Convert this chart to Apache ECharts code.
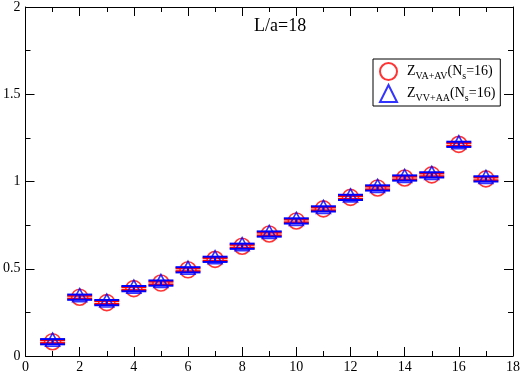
<!DOCTYPE html>
<html>
<head>
<meta charset="utf-8">
<script src="https://cdn.jsdelivr.net/npm/echarts@6/dist/echarts.min.js"></script>
<style>
html,body{margin:0;padding:0;background:#fff;}
#chart{width:532px;height:374px;}
</style>
</head>
<body>
<div id="chart"></div>
<script>
// Data
const xValues = [1, 2, 3, 4, 5, 6, 7, 8, 9, 10, 11, 12, 13, 14, 15, 16, 17];
const zVAAV = [0.082, 0.337, 0.306, 0.386, 0.418, 0.494, 0.554, 0.629, 0.699, 0.774, 0.843, 0.909, 0.963, 1.020, 1.038, 1.213, 1.015];
const zVAAVerr = [0.008, 0.008, 0.008, 0.008, 0.008, 0.008, 0.008, 0.008, 0.008, 0.008, 0.008, 0.008, 0.008, 0.008, 0.008, 0.008, 0.008];
const zVVAA = [0.082, 0.337, 0.306, 0.386, 0.418, 0.494, 0.554, 0.629, 0.699, 0.774, 0.843, 0.909, 0.963, 1.020, 1.038, 1.213, 1.015];
const zVVAAerr = [0.015, 0.015, 0.015, 0.015, 0.015, 0.015, 0.015, 0.015, 0.015, 0.015, 0.015, 0.015, 0.015, 0.015, 0.015, 0.015, 0.015];
const titleText = 'L/a=18';
const name1 = 'Z_VA+AV';
const name2 = 'Z_VV+AA';

const FONT = 'Liberation Serif';
const chart = echarts.init(document.getElementById('chart'), null, {renderer: 'canvas'});

function pts(vals, errs) { return xValues.map((x, i) => [x, vals[i], errs[i]]); }

function errRender(color) {
  return function (params, api) {
    const x = api.value(0), y = api.value(1), e = api.value(2);
    const hi = api.coord([x, y + e]);
    const lo = api.coord([x, y - e]);
    const hw = 12.5;
    const st = {stroke: color, lineWidth: 2};
    return {
      type: 'group',
      children: [
        {type: 'line', shape: {x1: hi[0], y1: hi[1], x2: lo[0], y2: lo[1]}, style: st},
        {type: 'line', shape: {x1: hi[0] - hw, y1: hi[1], x2: hi[0] + hw, y2: hi[1]}, style: st},
        {type: 'line', shape: {x1: lo[0] - hw, y1: lo[1], x2: lo[0] + hw, y2: lo[1]}, style: st}
      ]
    };
  };
}

const axisCommon = {
  type: 'value',
  axisLine: {show: true, onZero: false, lineStyle: {color: '#000', width: 1}},
  axisTick: {show: true, inside: true, length: 9, lineStyle: {color: '#000'}},
  minorTick: {show: true, splitNumber: 2, length: 5, lineStyle: {color: '#000'}},
  splitLine: {show: false},
  axisLabel: {color: '#000', fontFamily: FONT, fontSize: 14}
};

const option = {
  backgroundColor: '#fff',
  animation: false,
  title: {
    text: titleText, left: 249, top: 12,
    textStyle: {fontFamily: FONT, fontSize: 18, fontWeight: 'normal', color: '#000'}
  },
  grid: {left: 23, right: 19, top: 7, bottom: 17, containLabel: false},
  legend: {
    orient: 'vertical', left: 373, top: 59,
    backgroundColor: '#fff',
    borderColor: '#000', borderWidth: 1,
    padding: [3, 5, 3, 6],
    itemGap: 3, itemWidth: 17, itemHeight: 17,
    data: [name1, name2],
    formatter: function (n) {
      const sub = n === name1 ? 'VA+AV' : 'VV+AA';
      return '{m|Z}{s|' + sub + '}{m|(N}{s|s}{m|=16)}';
    },
    textStyle: {
      fontFamily: FONT, color: '#000', padding: [0, 0, 0, 5],
      rich: {
        m: {fontFamily: FONT, fontSize: 14, color: '#000', lineHeight: 19, verticalAlign: 'bottom', padding: [0, 0, 3, 0]},
        s: {fontFamily: FONT, fontSize: 10, color: '#000', lineHeight: 19, verticalAlign: 'bottom', padding: [0, 0, 0, 0]}
      }
    }
  },
  xAxis: [
    Object.assign({}, axisCommon, {min: 0, max: 18, interval: 2, position: 'bottom',
      axisLabel: Object.assign({}, axisCommon.axisLabel, {margin: 4})}),
    Object.assign({}, axisCommon, {min: 0, max: 18, interval: 2, position: 'top', axisLabel: {show: false}})
  ],
  yAxis: [
    Object.assign({}, axisCommon, {min: 0, max: 2, interval: 0.5, position: 'left',
      axisLabel: Object.assign({}, axisCommon.axisLabel, {margin: 5})}),
    Object.assign({}, axisCommon, {min: 0, max: 2, interval: 0.5, position: 'right', axisLabel: {show: false}})
  ],
  series: [
    {
      name: name1 + '_err', type: 'custom', renderItem: errRender('#ff0000'),
      data: pts(zVAAV, zVAAVerr), z: 2, silent: true
    },
    {
      name: name1, type: 'scatter', symbol: 'circle', symbolSize: 16,
      itemStyle: {color: 'rgba(0,0,0,0)', borderColor: '#ff0000', borderWidth: 1.6},
      data: pts(zVAAV, zVAAVerr), z: 3
    },
    {
      name: name2 + '_err', type: 'custom', renderItem: errRender('#0000ff'),
      data: pts(zVVAA, zVVAAerr), z: 4, silent: true
    },
    {
      name: name2, type: 'scatter', symbol: 'triangle', symbolSize: [14, 13], symbolOffset: [0, -2],
      itemStyle: {color: 'rgba(0,0,0,0)', borderColor: '#0000ff', borderWidth: 1.6},
      data: pts(zVVAA, zVVAAerr), z: 5
    }
  ]
};
chart.setOption(option);
</script>
</body>
</html>
